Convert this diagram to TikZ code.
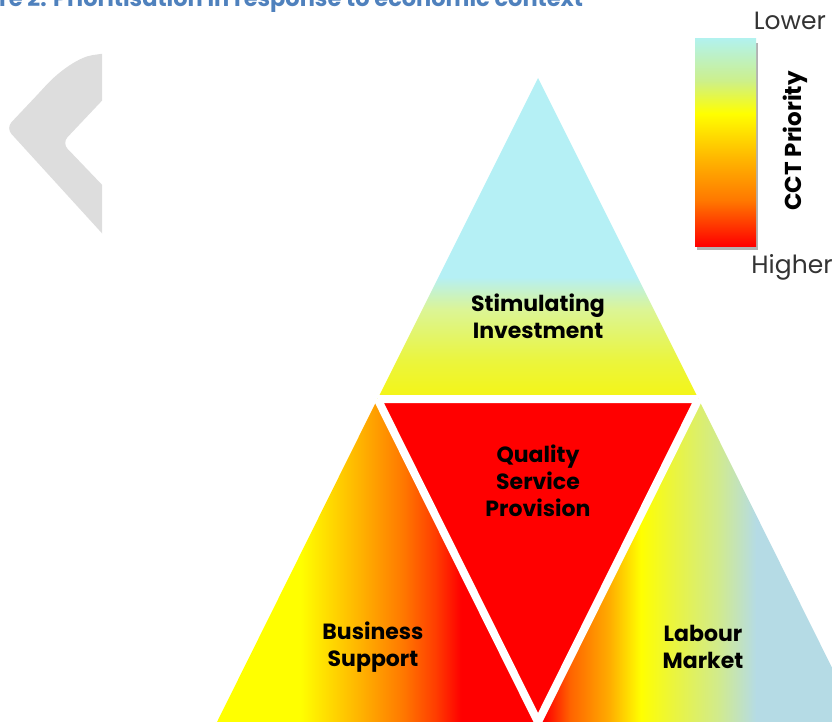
\documentclass[tikz,border=0pt]{standalone}
\usepackage{fontspec}
\setmainfont{Poppins}
\usepackage{xcolor}
\definecolor{titleblue}{RGB}{79,129,189}
\definecolor{chevrongrey}{RGB}{221,221,221}
\definecolor{scalegrey}{RGB}{51,51,51}
\definecolor{qualityred}{RGB}{255,0,0}
\usepackage{tikz}
\usetikzlibrary{shadows}
\newcommand{\gapwidth}{8pt}
\newcommand{\areafont}{\bfseries\fontsize{22pt}{27pt}\selectfont}
\newcommand{\scaleendfont}{\fontsize{25pt}{25pt}\selectfont}
% colour fades, 25bp..75bp is the filled area
\pgfdeclareverticalshading{stimfade}{100bp}{rgb(0bp)=(0.96,0.96,0.08); rgb(25bp)=(0.96,0.96,0.08);
    rgb(31bp)=(0.92,0.96,0.24); rgb(39bp)=(0.86,0.96,0.59); rgb(44bp)=(0.71,0.94,0.96); rgb(100bp)=(0.71,0.94,0.96)}
\pgfdeclarehorizontalshading{businessfade}{100bp}{rgb(0bp)=(1,1,0); rgb(38bp)=(1,1,0);
    rgb(47bp)=(1,0.71,0); rgb(54bp)=(1,0.47,0); rgb(59bp)=(1,0.24,0); rgb(63bp)=(1,0,0); rgb(100bp)=(1,0,0)}
\pgfdeclarehorizontalshading{labourfade}{100bp}{rgb(0bp)=(1,0,0); rgb(26bp)=(1,0,0);
    rgb(30bp)=(1,0.39,0); rgb(36bp)=(1,0.67,0); rgb(41bp)=(1,1,0); rgb(46bp)=(0.92,0.96,0.24);
    rgb(53bp)=(0.82,0.92,0.55); rgb(59bp)=(0.71,0.86,0.9); rgb(100bp)=(0.71,0.86,0.9)}
\pgfdeclareverticalshading{cctfade}{100bp}{rgb(0bp)=(1,0,0); rgb(25bp)=(1,0,0);
    rgb(36bp)=(1,0.47,0); rgb(46bp)=(1,0.71,0); rgb(57bp)=(1,1,0); rgb(65bp)=(0.8,0.94,0.55);
    rgb(75bp)=(0.7,0.95,0.93); rgb(100bp)=(0.7,0.95,0.93)}
\tikzset{
    area/.style={font=\areafont, align=center, text=black, inner sep=0pt},
    scale-end/.style={font=\scaleendfont, text=scalegrey, inner sep=0pt},
    gap/.style={draw=white, line width=\gapwidth},
    chevron/.style={fill=chevrongrey, rounded corners=8pt},
    colourbar/.style={shading=cctfade, drop shadow={shadow xshift=2pt, shadow yshift=-4pt, opacity=0.3, fill=black}}
}
\begin{document}
\begin{tikzpicture}[x=1pt, y=-1pt]
    \useasboundingbox (0,0) rectangle (832,722);
    \clip (0,0) rectangle (832,722);
    % heading, cut at the top
    \node[anchor=base west, inner sep=0pt, text=titleblue, font=\bfseries\fontsize{22.5pt}{22.5pt}\selectfont] (title) at (-1,7)
        {re 2: Prioritisation in response to economic context};
    % grey chevron
    \begin{scope}
        \clip (0,40) rectangle (102,250);
        \fill[chevron] (130,50) -- (100,54) .. controls (80,57) and (60,70) .. (40,92) -- (6,128)
            -- (130,264) -- (130,214) -- (62,143) -- (130,71) -- cycle;
    \end{scope}
    % triangle grid
    \coordinate (apex) at (538,78);
    \coordinate (midL) at (377.5,399);
    \coordinate (midR) at (698.5,399);
    \coordinate (botL) at (217,722);
    \coordinate (botM) at (538,722);
    \coordinate (botR) at (859,722);
    \shade[shading=stimfade] (apex) -- (midL) -- (midR) -- cycle;
    \fill[qualityred] (midL) -- (midR) -- (botM) -- cycle;
    \shade[shading=businessfade] (midL) -- (botL) -- (botM) -- cycle;
    \shade[shading=labourfade] (midR) -- (botM) -- (botR) -- cycle;
    \draw[gap] (midL) -- (midR) (midL) -- (botM) -- (midR);
    \node[area] (stim) at (538,316) {Stimulating\\Investment};
    \node[area] (quality) at (538,481) {Quality\\Service\\Provision};
    \node[area] (business) at (373,647) {Business\\Support};
    \node[area] (labour) at (703,647) {Labour\\Market};
    % priority scale
    \shade[colourbar] (695,39) rectangle (756,246);
    \node[scale-end] (lower) at (790,21) {Lower};
    \node[scale-end] (higher) at (792,267) {Higher};
    \node[area, rotate=90, font=\bfseries\fontsize{23pt}{23pt}\selectfont] (cct) at (795,141) {CCT Priority};
\end{tikzpicture}
\end{document}
